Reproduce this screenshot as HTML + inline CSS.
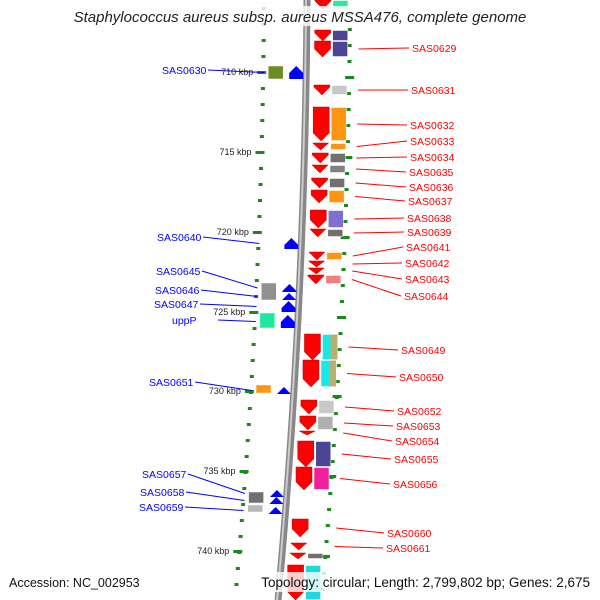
<!DOCTYPE html>
<html><head><meta charset="utf-8"><style>
html,body{margin:0;padding:0;background:#fff}
svg{display:block;font-family:"Liberation Sans",sans-serif}
</style></head><body>
<svg id="map" width="600" height="600" viewBox="0 0 600 600">
<g id="layer"></g>
</svg>
<script>
// right-strand genes: names, y ranges (arrow), box colour, label y
const rNames=["","","SAS0629","SAS0631","SAS0632","SAS0633","SAS0634","SAS0635","SAS0636","SAS0637","SAS0638","SAS0639","SAS0641","SAS0642","SAS0643","SAS0644","SAS0649","SAS0650","SAS0652","SAS0653","SAS0654","SAS0655","SAS0656","SAS0660","SAS0661","",""];
const rStart=[0,30,41,85,107,143,153,165,178,190,210,229,252,261,268,275,334,360,400,416,431,441,467,519,543,553,565];
const rEnd=[9,41,57,95,141,150,163,173,188,203,228,237,260,267,274,284,360,387,414,430,435,467,490,537,550,559,600];
const rBox=["#33e6a0","#4b4594","#4b4594","#c8c8c8","#ff9410","#ff9410","#707070","#808080","#707070","#ff9410","#7f6fd0","#707070","#ff9410","","","#f08080","#18e8e8","#18e8e8","#c8c8c8","#b0b0b0","","#4b4594","#f0209a","","","#707070","#20d8e0"];
const rLabelY=[0,0,48,90,125,141,157,172,187,201,218,232,247,263,279,296,350,377,411,426,441,459,484,533,548,0,0];
const rLabelX=[0,0,412,411,410,410,410,409,409,408,407,407,406,405,405,404,401,399,397,396,395,394,393,387,386,0,0];
// left-strand genes
const lNames=["SAS0630","SAS0640","SAS0645","SAS0646","SAS0647","uppP","SAS0651","SAS0657","SAS0658","SAS0659"];
const lStart=[66,238,284,293,301,315,387,490,497,507];
const lEnd=[79,249,292,300,312,328,394,497,504,514];
const lBox=["#6b8e23","","#909090","","","#20e8a0","#ff9410","#707070","","#b8b8b8"];
const lBoxStart=[66,0,283,0,0,313,385,492,0,505];
const lBoxEnd=[79,0,300,0,0,328,393,503,0,512];
const lLabelY=[70,237,271,290,304,320,382,474,492,507];
const lLabelX=[162,157,156,155,154,172,149,142,140,139];
// kbp ticks
const kbpVals=[710,715,720,725,730,735,740];
const kbpY=[72,152,232,312,391,471,551];

const NS="http://www.w3.org/2000/svg";
const L=document.getElementById('layer');
function bx(y){return 307-0.0058*y-7.08e-5*y*y;}
function mk(tag,a,parent){const e=document.createElementNS(NS,tag);for(const k in a)e.setAttribute(k,a[k]);(parent||L).appendChild(e);return e;}

let pts=[];for(let y=0;y<=600;y+=10)pts.push(bx(y)+","+y);
let bb=mk('polyline',{points:pts.join(' '),fill:'none',stroke:'#888','stroke-width':7});


let pts2=[];for(let y=0;y<=600;y+=10)pts2.push((bx(y)-1)+","+y);
mk('polyline',{points:pts2.join(' '),fill:'none',stroke:'#ccc','stroke-width':2});

for(let y=8;y<600;y+=16){
  let d1=mk('rect',{x:bx(y)-45,y:y-1,width:4,height:3,fill:'#1a8a1a'});
  
  
  let d2=mk('rect',{x:bx(y)+41,y:y+4,width:4,height:3,fill:'#1a8a1a'});
  
  
}
kbpVals.forEach((v,i)=>{
  const y=kbpY[i];
  let t=mk('rect',{x:bx(y)-49,y:y-1,width:9,height:3,fill:'#1a8a1a'});
  
  
  mk('rect',{x:bx(y+5)+39,y:y+4,width:9,height:3,fill:'#1a8a1a'});
  let tx=mk('text',{x:bx(y)-53,y:y+3,'font-size':9,'text-anchor':'end',fill:'#222'});
  tx.textContent=v+" kbp";
  
  
});

function downArrow(x0,x1,y0,y1,fill){
  const h=Math.min(8,(y1-y0));const xm=(x0+x1)/2;
  return mk('polygon',{points:`${x0},${y0} ${x1},${y0} ${x1},${y1-h} ${xm},${y1} ${x0},${y1-h}`,fill:fill,stroke:'#b00','stroke-width':0.5});
}
function upArrow(x0,x1,y0,y1,fill){
  const h=Math.min(7,(y1-y0));const xm=(x0+x1)/2;
  return mk('polygon',{points:`${x0},${y1} ${x1},${y1} ${x1},${y0+h} ${xm},${y0} ${x0},${y0+h}`,fill:fill});
}

rNames.forEach((n,i)=>{
  const y0=rStart[i],y1=rEnd[i],b=bx((y0+y1)/2);
  const a=downArrow(b+8,b+24,y0,y1,'#f00');
  
  
  if(rBox[i]){
    const bxx=mk('rect',{x:b+26,y:y0+0.5,width:15,height:y1-y0-1,fill:rBox[i],stroke:'#fff','stroke-width':0.5});
    
    
  }
  if(n==="SAS0649"||n==="SAS0650"){
    const k=mk('rect',{x:b+34,y:y0+0.5,width:7,height:y1-y0-1,fill:'#b8b070'});
    
    
  }
  if(n){
    const ly=(y0+y1)/2;
    mk('line',{x1:bx(ly)+52,y1:ly,x2:rLabelX[i]-3,y2:rLabelY[i],stroke:'#f00','stroke-width':1});
    const t=mk('text',{x:rLabelX[i],y:rLabelY[i]+4,'font-size':10.5,fill:'#f00'});
    t.textContent=n;
    
    
  }
});
lNames.forEach((n,i)=>{
  const y0=lStart[i],y1=lEnd[i],b=bx((y0+y1)/2);
  const a=upArrow(b-17,b-3,y0,y1,'#0000ff');
  
  
  if(lBox[i]){
    const bb2=bx((lBoxStart[i]+lBoxEnd[i])/2);
    const r=mk('rect',{x:bb2-38,y:lBoxStart[i],width:15,height:lBoxEnd[i]-lBoxStart[i],fill:lBox[i],stroke:'#fff','stroke-width':0.5});
    
    
  }
  const ly=(y0+y1)/2;
  mk('line',{x1:lLabelX[i]+46,y1:lLabelY[i],x2:bx(ly)-42,y2:ly,stroke:'#00f','stroke-width':1});
  const t=mk('text',{x:lLabelX[i],y:lLabelY[i]+4,'font-size':10.5,fill:'#00f'});
  t.textContent=n;
  
  
});

mk('rect',{x:68,y:6,width:464,height:20,fill:'#fff','fill-opacity':0.8});
const title=mk('text',{x:300,y:22,'font-size':15,'font-style':'italic','text-anchor':'middle',fill:'#222'});
title.textContent="Staphylococcus aureus subsp. aureus MSSA476, complete genome";


mk('rect',{x:258,y:572,width:336,height:20,fill:'#fff','fill-opacity':0.8});
const acc=mk('text',{x:9,y:587,'font-size':12.5,fill:'#111'});
acc.textContent="Accession: NC_002953";


const topo=mk('text',{x:590,y:587,'font-size':13.5,'text-anchor':'end',fill:'#111'});
topo.textContent="Topology: circular; Length: 2,799,802 bp; Genes: 2,675";


</script>
</body></html>
